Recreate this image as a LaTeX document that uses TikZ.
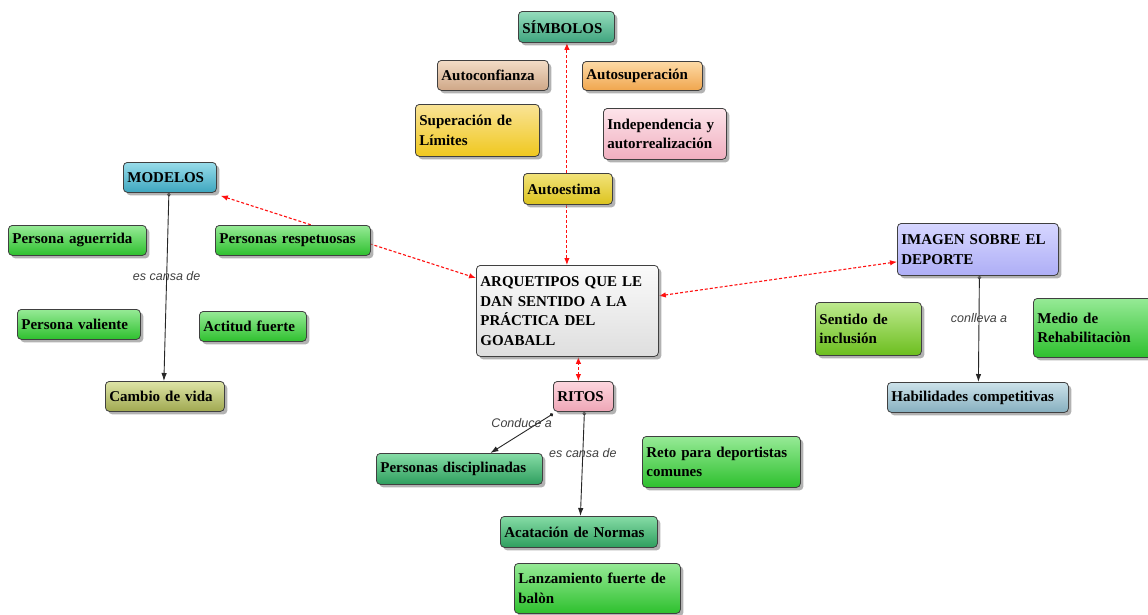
\documentclass[tikz,border=0pt]{standalone}
\usepackage{fontspec}
\setmainfont{Liberation Serif}
\newfontfamily\lblfont{Liberation Sans}
\usetikzlibrary{shadows,arrows.meta,calc,backgrounds}
\definecolor{simA}{HTML}{95DCBC}\definecolor{simB}{HTML}{3FA47E}
\definecolor{aucA}{HTML}{F2DCC6}\definecolor{aucB}{HTML}{CFA787}
\definecolor{ausA}{HTML}{FDDAA6}\definecolor{ausB}{HTML}{F0A64E}
\definecolor{supA}{HTML}{F9E396}\definecolor{supB}{HTML}{F0C81E}
\definecolor{indA}{HTML}{FDE4EA}\definecolor{indB}{HTML}{F0AEBF}
\definecolor{aueA}{HTML}{F2E37A}\definecolor{aueB}{HTML}{DCC41E}
\definecolor{modA}{HTML}{98DCEA}\definecolor{modB}{HTML}{3EA6BF}
\definecolor{grnA}{HTML}{96EA96}\definecolor{grnB}{HTML}{2EC02E}
\definecolor{camA}{HTML}{DDE4A6}\definecolor{camB}{HTML}{A0A850}
\definecolor{arqA}{HTML}{FAFAFA}\definecolor{arqB}{HTML}{DEDEDE}
\definecolor{ritA}{HTML}{FDD6DE}\definecolor{ritB}{HTML}{EEA6B6}
\definecolor{sgA}{HTML}{86DCA6}\definecolor{sgB}{HTML}{2E9E5E}
\definecolor{imaA}{HTML}{D6D6FF}\definecolor{imaB}{HTML}{AEAEF6}
\definecolor{senA}{HTML}{BDE98E}\definecolor{senB}{HTML}{6CBE1E}
\definecolor{habA}{HTML}{CCE2EA}\definecolor{habB}{HTML}{86AFBF}
\definecolor{linkred}{HTML}{FF1010}
\begin{document}
\begin{tikzpicture}[x=1pt,y=-1pt,
  cbox/.style={rounded corners=4pt, draw=black!75, line width=0.8pt,
    drop shadow={shadow xshift=3pt, shadow yshift=-3pt, opacity=0.6},
    font=\fontsize{15}{19.5}\selectfont\bfseries, align=left, anchor=north west,
    inner xsep=4pt, inner ysep=2pt},
  grad/.style 2 args={top color=#1, bottom color=#2},
  redlink/.style={linkred, line width=1.1pt, dash pattern=on 3pt off 2pt,
    {Latex[length=7pt,width=5.5pt]}-{Latex[length=7pt,width=5.5pt]}},
  redone/.style={linkred, line width=1.1pt, dash pattern=on 3pt off 2pt,
    -{Latex[length=7pt,width=5.5pt]}},
  blklink/.style={black!85, line width=0.9pt,
    {Circle[length=3.5pt]}-{Latex[length=8pt,width=5.5pt]}},
  lbl/.style={font=\lblfont\itshape\fontsize{12.5}{14}\selectfont, text=black!75, inner sep=0pt}
]
\clip (0,0) rectangle (1148,614);
\useasboundingbox (0,0) rectangle (1148,614);

% ---------- nodes ----------
\node[cbox, grad={simA}{simB}, text width=88, minimum height=31] (SIM) at (518,11) {SÍMBOLOS};
\node[cbox, grad={aucA}{aucB}, text width=103, minimum height=30] (AUC) at (437,60) {Autoconfianza};
\node[cbox, grad={ausA}{ausB}, text width=112, minimum height=29] (AUS) at (582,61) {Autosuperación};
\node[cbox, grad={supA}{supB}, text width=116, minimum height=52] (SUP) at (415,104) {Superación de\\Límites};
\node[cbox, grad={indA}{indB}, text width=115, minimum height=51] (IND) at (603,108) {Independencia y\\autorrealización};
\node[cbox, grad={aueA}{aueB}, text width=81, minimum height=31] (AUE) at (523,173) {Autoestima};

\node[cbox, grad={modA}{modB}, text width=85, minimum height=30] (MOD) at (123,162) {MODELOS};
\node[cbox, grad={grnA}{grnB}, text width=130, minimum height=30] (PAG) at (8,225) {Persona aguerrida};
\node[cbox, grad={grnA}{grnB}, text width=147, minimum height=30] (PRE) at (215,225) {Personas respetuosas};
\node[cbox, grad={grnA}{grnB}, text width=115, minimum height=30] (PVA) at (17,309) {Persona valiente};
\node[cbox, grad={grnA}{grnB}, text width=99, minimum height=30] (ACF) at (199,311) {Actitud fuerte};
\node[cbox, grad={camA}{camB}, text width=111, minimum height=30] (CAM) at (105,381) {Cambio de vida};

\node[cbox, grad={arqA}{arqB}, text width=174, minimum height=91] (ARQ) at (476,265) {ARQUETIPOS QUE LE\\DAN SENTIDO A LA\\PRÁCTICA DEL\\GOABALL};
\node[cbox, grad={ritA}{ritB}, text width=52, minimum height=30] (RIT) at (553,381) {RITOS};
\node[cbox, grad={sgA}{sgB}, text width=158, minimum height=31] (PDI) at (376,453) {Personas disciplinadas};
\node[cbox, grad={grnA}{grnB}, text width=150, minimum height=51] (RET) at (642,436) {Reto para deportistas\\comunes};
\node[cbox, grad={sgA}{sgB}, text width=149, minimum height=31] (ACA) at (500,516) {Acatación de Normas};
\node[cbox, grad={grnA}{grnB}, text width=158, minimum height=50] (LAN) at (514,563) {Lanzamiento fuerte de\\balòn};

\node[cbox, grad={imaA}{imaB}, text width=153, minimum height=52] (IMA) at (897,223) {IMAGEN SOBRE EL\\DEPORTE};
\node[cbox, grad={senA}{senB}, text width=98, minimum height=53] (SEN) at (815,302) {Sentido de\\inclusión};
\node[cbox, grad={grnA}{grnB}, text width=122, minimum height=59] (MED) at (1033,298) {Medio de\\Rehabilitaciòn};
\node[cbox, grad={habA}{habB}, text width=173, minimum height=30] (HAB) at (887,382) {Habilidades competitivas};

% ---------- connectors ----------
\begin{pgfonlayer}{background}
\fill[white] (0,0) rectangle (1148,614);
\draw[redone] ([xshift=-1pt]AUE.north) -- ([xshift=-1pt]SIM.south -| AUE.north);
\draw[redone] ([xshift=-1pt]AUE.south) -- ([xshift=-1pt]ARQ.north -| AUE.south);
\draw[redlink] ([shift={(4,3)}]MOD.south east) -- ([yshift=-13pt]ARQ.north west);
\draw[redlink] ([yshift=15pt]ARQ.east) -- ([yshift=14pt]IMA.south west);
\draw[redlink] ([xshift=-5pt]RIT.north) -- ([xshift=-5pt]RIT.north |- ARQ.south);

\draw[blklink] ([xshift=-1pt]MOD.south) -- node[lbl, pos=0.44]{es cansa de} ([xshift=-1pt]CAM.north);
\draw[blklink] ([yshift=-2pt]RIT.south west) -- node[lbl, pos=0.5, yshift=10pt]{Conduce a} ([xshift=31pt]PDI.north);
\draw[blklink] ([xshift=1pt]RIT.south) -- node[lbl, pos=0.4]{es cansa de} ([xshift=1.5pt]ACA.north);
\draw[blklink] ([xshift=1.5pt]IMA.south) -- node[lbl, pos=0.4]{conlleva a} ([xshift=0.5pt]HAB.north);
\end{pgfonlayer}
\end{tikzpicture}
\end{document}
